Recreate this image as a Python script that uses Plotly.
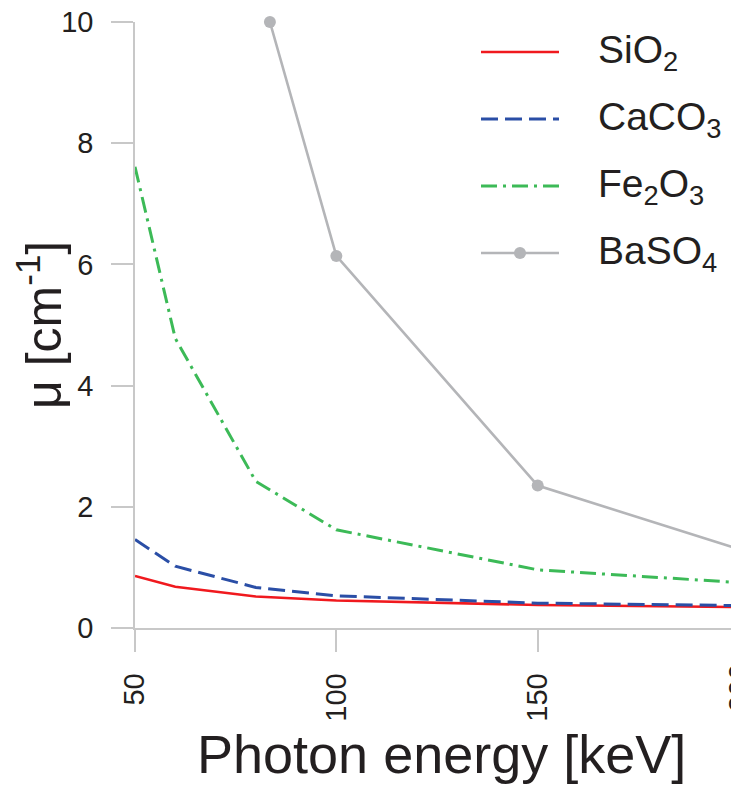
import plotly.graph_objects as go

# Linear attenuation coefficients of mineral phases vs photon energy
energy = [50, 60, 80, 100, 150, 200]
mu_sio2 = [0.86, 0.68, 0.52, 0.455, 0.38, 0.345]
mu_caco3 = [1.46, 1.02, 0.67, 0.53, 0.41, 0.37]
mu_fe2o3 = [7.61, 4.78, 2.42, 1.62, 0.96, 0.75]

energy_baso4 = [83.5, 100, 150, 200]
mu_baso4 = [10.0, 6.14, 2.35, 1.30]

x_ticks = [50, 100, 150, 200]
y_ticks = [0, 2, 4, 6, 8, 10]

W, H = 731, 785
ML, MR, MT, MB = 135, 0, 22, 157
X_RANGE = [50, 198]
Y_RANGE = [0, 10]

FONT = "Liberation Sans, Arial, sans-serif"
TXT = "#231f20"
AXIS = "#c8c8c8"

RED = "#f0191e"
BLUE = "#2a4ea6"
GREEN = "#3cba57"
GRAY = "#b4b5b8"

styles = {
    "SiO<sub>2</sub>": dict(color=RED, width=2.6, dash="solid"),
    "CaCO<sub>3</sub>": dict(color=BLUE, width=3.0, dash="17px,7px"),
    "Fe<sub>2</sub>O<sub>3</sub>": dict(color=GREEN, width=3.0, dash="16px,6px,3px,6px"),
    "BaSO<sub>4</sub>": dict(color=GRAY, width=2.6, dash="solid"),
}

fig = go.Figure()
series = [
    ("SiO<sub>2</sub>", energy, mu_sio2),
    ("CaCO<sub>3</sub>", energy, mu_caco3),
    ("Fe<sub>2</sub>O<sub>3</sub>", energy, mu_fe2o3),
]
for name, xs, ys in series:
    fig.add_trace(go.Scatter(x=xs, y=ys, mode="lines", name=name,
                             line=styles[name], showlegend=False))
fig.add_trace(go.Scatter(x=energy_baso4, y=mu_baso4, mode="lines+markers",
                         name="BaSO<sub>4</sub>", line=styles["BaSO<sub>4</sub>"],
                         marker=dict(size=12, color=GRAY), cliponaxis=False,
                         showlegend=False))

pw = W - ML - MR
ph = H - MT - MB


def px_x(p):
    return (p - ML) / pw


def px_y(p):
    return (H - MB - p) / ph


# Legend drawn as shapes + labels
shapes = []
annotations = []
rows_y = [52, 119, 186, 253]
for (name, st), ry in zip(styles.items(), rows_y):
    shapes.append(dict(type="line", xref="paper", yref="paper",
                       x0=px_x(481), x1=px_x(559), y0=px_y(ry), y1=px_y(ry),
                       line=dict(color=st["color"], width=st["width"],
                                 dash=st["dash"])))
    annotations.append(dict(text=name, xref="paper", yref="paper",
                            x=px_x(596), y=px_y(ry), xanchor="left",
                            yanchor="middle", showarrow=False,
                            font=dict(family=FONT, size=39, color=TXT)))
shapes.append(dict(type="circle", xref="paper", yref="paper",
                   xsizemode="pixel", ysizemode="pixel",
                   xanchor=px_x(520), yanchor=px_y(rows_y[3]),
                   x0=-6, x1=6, y0=-6, y1=6,
                   fillcolor=GRAY, line=dict(width=0)))

# Tick label for the energy just past the visible range
annotations.append(dict(text="200", xref="paper", yref="paper",
                        x=(200 - X_RANGE[0]) / (X_RANGE[1] - X_RANGE[0]), y=0,
                        xanchor="center", yanchor="top", yshift=-34,
                        textangle=-90, showarrow=False,
                        font=dict(family=FONT, size=29, color=TXT)))

# Axis titles
annotations.append(dict(text="Photon energy [keV]", xref="paper", yref="paper",
                        x=0.5, y=0, xanchor="center", yanchor="top",
                        xshift=8, yshift=-94, showarrow=False,
                        font=dict(family=FONT, size=54, color=TXT)))
annotations.append(dict(text="\u03bc [cm<sup>-1</sup>]", xref="paper", yref="paper",
                        x=0, y=0.5, xanchor="center", yanchor="middle",
                        xshift=-95, textangle=-90, showarrow=False,
                        font=dict(family=FONT, size=50, color=TXT)))

fig.update_layout(
    width=W, height=H,
    margin=dict(l=ML, r=MR, t=MT, b=MB),
    paper_bgcolor="white", plot_bgcolor="white",
    shapes=shapes, annotations=annotations,
    showlegend=False,
)
fig.update_xaxes(range=X_RANGE, tickvals=x_ticks, ticktext=[str(v) for v in x_ticks],
                 showgrid=False, zeroline=False, showline=True, linecolor=AXIS,
                 linewidth=1.5, ticks="outside", ticklen=22, tickwidth=1.5,
                 tickcolor=AXIS, tickangle=-90, ticklabelstandoff=10,
                 tickfont=dict(family=FONT, size=29, color=TXT))
fig.update_yaxes(range=Y_RANGE, tickvals=y_ticks, ticktext=[str(v) for v in y_ticks],
                 showgrid=False, zeroline=False, showline=True, linecolor=AXIS,
                 linewidth=1.5, ticks="outside", ticklen=22, tickwidth=1.5,
                 tickcolor=AXIS, ticklabelstandoff=12,
                 tickfont=dict(family=FONT, size=29, color=TXT))

fig.write_html("out.html")
